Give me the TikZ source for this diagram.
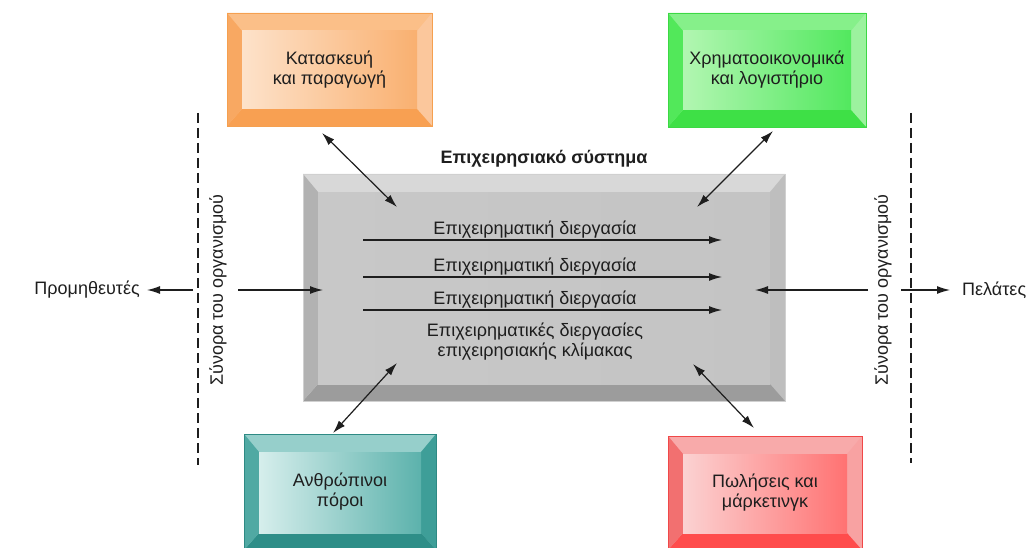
\documentclass[tikz,border=0pt]{standalone}
\usepackage{fontspec}
\setmainfont{Liberation Sans}
\usetikzlibrary{arrows.meta, positioning}

% box colours: top, left, bottom, right bevel, inner panel left/right, border
\definecolor{prodtop}{HTML}{FBBF88}
\definecolor{prodleft}{HTML}{F8A862}
\definecolor{prodbot}{HTML}{F8A052}
\definecolor{prodright}{HTML}{FBC79C}
\definecolor{prodinl}{HTML}{FDE2CA}
\definecolor{prodinr}{HTML}{F9B070}
\definecolor{prodline}{HTML}{F5A050}

\definecolor{fintop}{HTML}{86F08A}
\definecolor{finleft}{HTML}{52E85A}
\definecolor{finbot}{HTML}{3EE046}
\definecolor{finright}{HTML}{9CF29E}
\definecolor{fininl}{HTML}{B2F6B2}
\definecolor{fininr}{HTML}{52E85E}
\definecolor{finline}{HTML}{3CD844}

\definecolor{hrtop}{HTML}{96CFCB}
\definecolor{hrleft}{HTML}{50A9A3}
\definecolor{hrbot}{HTML}{2E8E88}
\definecolor{hrright}{HTML}{3E9E98}
\definecolor{hrinl}{HTML}{D6EEEC}
\definecolor{hrinr}{HTML}{5CB2AC}
\definecolor{hrline}{HTML}{2E8A84}

\definecolor{saltop}{HTML}{F8AAAA}
\definecolor{salleft}{HTML}{F27070}
\definecolor{salbot}{HTML}{FF4C4C}
\definecolor{salright}{HTML}{F8A2A2}
\definecolor{salinl}{HTML}{FBD2D2}
\definecolor{salinr}{HTML}{FF7272}
\definecolor{salline}{HTML}{F04848}

\definecolor{systop}{HTML}{D8D8D8}
\definecolor{sysleft}{HTML}{B2B2B2}
\definecolor{sysbot}{HTML}{9C9C9C}
\definecolor{sysright}{HTML}{BEBEBE}
\definecolor{sysinl}{HTML}{C8C8C8}
\definecolor{sysinr}{HTML}{C4C4C4}
\definecolor{sysline}{HTML}{D0D0D0}

\definecolor{ink}{HTML}{1E1E1E}

\newcommand\dgfont{\fontsize{18}{20}\selectfont}

\tikzset{
  bevel/.style={draw=#1line, line width=0.6pt, fill=#1top, align=center,
    font=\dgfont, text=ink, inner sep=0pt,
    path picture={
      \coordinate (bvA) at (path picture bounding box.north west);
      \coordinate (bvB) at (path picture bounding box.north east);
      \coordinate (bvC) at (path picture bounding box.south east);
      \coordinate (bvD) at (path picture bounding box.south west);
      \coordinate (bva) at ([shift={(15pt,-18pt)}]bvA);
      \coordinate (bvb) at ([shift={(-15pt,-18pt)}]bvB);
      \coordinate (bvc) at ([shift={(-15pt,17pt)}]bvC);
      \coordinate (bvd) at ([shift={(15pt,17pt)}]bvD);
      \fill[#1top] (bvA) -- (bvB) -- (bvb) -- (bva) -- cycle;
      \fill[#1right] (bvB) -- (bvC) -- (bvc) -- (bvb) -- cycle;
      \fill[#1bot] (bvC) -- (bvD) -- (bvd) -- (bvc) -- cycle;
      \fill[#1left] (bvD) -- (bvA) -- (bva) -- (bvd) -- cycle;
      \shade[left color=#1inl, right color=#1inr] (bva) rectangle (bvc);
    }},
  txt/.style={font=\dgfont, text=ink, inner sep=1pt, align=center},
  flow/.style={->, >={Latex[length=13pt,width=8pt]}, line width=1.2pt, draw=ink},
  both/.style={<->, >={Latex[length=13pt,width=8pt]}, line width=1.2pt, draw=ink},
  border/.style={dashed, dash pattern=on 10pt off 5pt, line width=1.1pt, draw=ink},
}

\begin{document}
\begin{tikzpicture}[x=1pt, y=-1pt]
  \useasboundingbox (0,0) rectangle (1027,548);

  % departments
  \node[bevel=prod, minimum width=205, minimum height=113] (prod) at (329.5,69.5)
    {Κατασκευή\\και παραγωγή};
  \node[bevel=fin, minimum width=198, minimum height=114] (fin) at (767,70)
    {Χρηματοοικονομικά\\και λογιστήριο};
  \node[bevel=hr, minimum width=192, minimum height=116] (hr) at (340,492)
    {Ανθρώπινοι\\πόροι};
  \node[bevel=sal, minimum width=194, minimum height=114] (sal) at (765,493)
    {Πωλήσεις και\\μάρκετινγκ};

  % business system
  \node[bevel=sys, minimum width=482, minimum height=227] (sys) at (544,287.5) {};
  \node[txt, font=\dgfont\bfseries, anchor=base] (systitle) at (544,164) {Επιχειρησιακό σύστημα};

  \foreach \i/\y in {1/240, 2/277, 3/310}{
    \node[txt, anchor=base] (proc\i) at (535,\y-6) {Επιχειρηματική διεργασία};
    \coordinate (pin\i) at (363,\y);
    \coordinate (pout\i) at (722,\y);
    \draw[flow] (pin\i) -- (pout\i);
  }
  \node[txt] (wide) at (535,342) {Επιχειρηματικές διεργασίες\\επιχειρησιακής κλίμακας};

  % links between departments and system
  \coordinate (prodEnd) at (322,133);
  \coordinate (prodIn) at (397,207);
  \coordinate (finEnd) at (773,131);
  \coordinate (finIn) at (697,207);
  \coordinate (hrEnd) at (333,433);
  \coordinate (hrIn) at (397,363);
  \coordinate (salEnd) at (754,428);
  \coordinate (salIn) at (693,364);
  \draw[both] (prodEnd) -- (prodIn);
  \draw[both] (finEnd) -- (finIn);
  \draw[both] (hrEnd) -- (hrIn);
  \draw[both] (salEnd) -- (salIn);

  % organisation boundaries
  \coordinate (lbTop) at (198,113);
  \coordinate (lbBot) at (198,465);
  \coordinate (rbTop) at (911,113);
  \coordinate (rbBot) at (911,463);
  \draw[border] (lbTop) -- (lbBot);
  \draw[border] (rbTop) -- (rbBot);
  \node[txt, rotate=90] (lbound) at (218,290) {Σύνορα του οργανισμού};
  \node[txt, rotate=90] (rbound) at (883,290) {Σύνορα του οργανισμού};

  % suppliers and customers
  \node[txt, anchor=east] (supp) at (141,290) {Προμηθευτές};
  \node[txt, anchor=west] (cust) at (961,290) {Πελάτες};
  \coordinate (suppOut) at (193,290);
  \coordinate (sysInL) at (238,290);
  \coordinate (sysArrL) at (323,290);
  \coordinate (sysInR) at (868,290);
  \coordinate (sysArrR) at (755,290);
  \coordinate (custOut) at (901,290);
  \draw[flow] (suppOut) -- ([xshift=6pt]supp.east);
  \draw[flow] (sysInL) -- (sysArrL);
  \draw[flow] (sysInR) -- (sysArrR);
  \draw[flow] (custOut) -- ([xshift=-11pt]cust.west);
\end{tikzpicture}
\end{document}
